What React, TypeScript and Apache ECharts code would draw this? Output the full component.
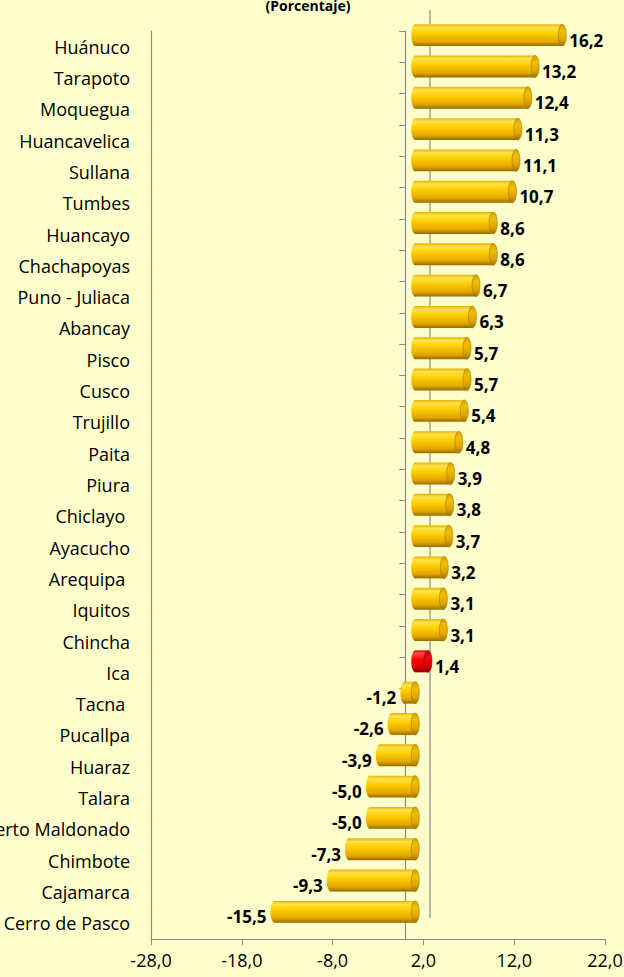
import React, { useEffect, useRef } from "react";
import * as echarts from "echarts";

const categories = [
  "Huánuco", "Tarapoto", "Moquegua", "Huancavelica", "Sullana", "Tumbes", "Huancayo",
  "Chachapoyas", "Puno - Juliaca", "Abancay", "Pisco", "Cusco", "Trujillo", "Paita",
  "Piura", "Chiclayo ", "Ayacucho", "Arequipa ", "Iquitos", "Chincha", "Ica", "Tacna ",
  "Pucallpa", "Huaraz", "Talara", "Puerto Maldonado", "Chimbote", "Cajamarca", "Cerro de Pasco",
];
const values = [
  16.2, 13.2, 12.4, 11.3, 11.1, 10.7, 8.6, 8.6, 6.7, 6.3, 5.7, 5.7, 5.4, 4.8, 3.9, 3.8, 3.7,
  3.2, 3.1, 3.1, 1.4, -1.2, -2.6, -3.9, -5.0, -5.0, -7.3, -9.3, -15.5,
];
const highlightCategory = "Ica";
const xTickValues = [-28, -18, -8, 2, 12, 22];
const titleText = "(Porcentaje)";

const FONT = "'Open Sans', sans-serif";
const fmt = (v: number) => v.toFixed(1).replace(".", ",");

const goldBody = new echarts.graphic.LinearGradient(0, 0, 0, 1, [
  { offset: 0, color: "#E8B000" },
  { offset: 0.15, color: "#FFE34D" },
  { offset: 0.4, color: "#FFD000" },
  { offset: 0.8, color: "#E2A600" },
  { offset: 1, color: "#946A00" },
]);
const goldCap = new echarts.graphic.LinearGradient(0, 0, 0, 1, [
  { offset: 0, color: "#D9A000" },
  { offset: 0.3, color: "#F2BE00" },
  { offset: 0.7, color: "#DDA500" },
  { offset: 1, color: "#A07300" },
]);
const redBody = new echarts.graphic.LinearGradient(0, 0, 0, 1, [
  { offset: 0, color: "#E00000" },
  { offset: 0.15, color: "#FF5050" },
  { offset: 0.4, color: "#FF0000" },
  { offset: 0.8, color: "#D00000" },
  { offset: 1, color: "#8A0000" },
]);
const redCap = new echarts.graphic.LinearGradient(0, 0, 0, 1, [
  { offset: 0, color: "#C00000" },
  { offset: 0.3, color: "#F01010" },
  { offset: 0.7, color: "#D00000" },
  { offset: 1, color: "#900000" },
]);

export default function App() {
  const ref = useRef<HTMLDivElement>(null);
  useEffect(() => {
    if (!ref.current) return;
    const chart = echarts.init(ref.current, undefined, { renderer: "svg" });
    const data = values.map((v, i) => [v, i]);
    chart.setOption({
      animation: false,
      backgroundColor: "#FFFFCC",
      textStyle: { fontFamily: FONT },
      title: {
        text: titleText,
        left: 303,
        top: -7,
        textAlign: "center",
        textStyle: { fontSize: 14, fontWeight: "bold", color: "#000", fontFamily: FONT },
      },
      graphic: [
        {
          type: "line",
          shape: { x1: 430, y1: 10, x2: 430, y2: 918 },
          style: { stroke: "#8C8C8C", lineWidth: 1.2 },
          silent: true,
        },
      ],
      grid: {
        left: 151,
        right: 19,
        top: 31,
        bottom: 38,
        containLabel: false,
        outerBoundsMode: "none",
      },
      xAxis: {
        type: "value",
        min: -28,
        max: 22,
        splitLine: { show: false },
        axisLine: { show: true, lineStyle: { color: "#8C8C8C", width: 1.2 } },
        axisTick: { show: true, length: 6, customValues: xTickValues, lineStyle: { color: "#8C8C8C" } },
        axisLabel: {
          customValues: xTickValues,
          formatter: (v: number) => fmt(v),
          fontSize: 18,
          color: "#000",
          margin: 12,
          fontFamily: FONT,
        },
      },
      yAxis: [
        {
          type: "category",
          data: categories,
          inverse: true,
          position: "left",
          axisLine: { show: true, onZero: false, lineStyle: { color: "#8C8C8C", width: 1.2 } },
          axisTick: { show: false },
          axisLabel: { fontSize: 18, color: "#000", margin: 21, fontFamily: FONT },
          splitLine: { show: false },
        },
        {
          type: "category",
          data: categories,
          inverse: true,
          position: "right",
          axisLine: { show: true, onZero: true, lineStyle: { color: "#8C8C8C", width: 1.2 } },
          axisTick: { show: true, inside: true, length: 6, lineStyle: { color: "#8C8C8C" } },
          axisLabel: { show: false },
          splitLine: { show: false },
        },
      ],
      series: [
        {
          type: "custom",
          xAxisIndex: 0,
          yAxisIndex: 0,
          data,
          encode: { x: 0, y: 1 },
          renderItem: (params: any, api: any) => {
            const v = api.value(0);
            const idx = api.value(1);
            const p0 = api.coord([0, idx]);
            const p1 = api.coord([v, idx]);
            const band = api.size([0, 1])[1];
            const h = band * 0.7;
            const dx = 10;
            const dy = -11.5;
            const xl = Math.min(p0[0], p1[0]) + dx;
            const xr = Math.max(p0[0], p1[0]) + dx;
            const yc = p0[1] + dy;
            const rx = 4;
            const isRed = categories[params.dataIndex] === highlightCategory;
            const body = isRed ? redBody : goldBody;
            const cap = isRed ? redCap : goldCap;
            const capStroke = isRed ? "#8A0000" : "#A27600";
            const label = fmt(v);
            const textEl =
              v >= 0
                ? {
                    type: "text",
                    style: {
                      x: xr + rx + 3,
                      y: yc + 5,
                      text: label,
                      align: "left",
                      verticalAlign: "middle",
                      font: `bold 17px ${FONT}`,
                      fill: "#000",
                    },
                  }
                : {
                    type: "text",
                    style: {
                      x: xl - rx - 4,
                      y: yc + 5,
                      text: label,
                      align: "right",
                      verticalAlign: "middle",
                      font: `bold 17px ${FONT}`,
                      fill: "#000",
                    },
                  };
            return {
              type: "group",
              children: [
                {
                  type: "ellipse",
                  shape: { cx: xl, cy: yc, rx: rx, ry: h / 2 },
                  style: { fill: body },
                },
                {
                  type: "rect",
                  shape: { x: xl, y: yc - h / 2, width: Math.max(xr - xl, 0.5), height: h },
                  style: { fill: body },
                },
                {
                  type: "ellipse",
                  shape: { cx: xr, cy: yc, rx: rx, ry: h / 2 },
                  style: { fill: cap, stroke: capStroke, lineWidth: 0.6 },
                },
                textEl,
              ],
            };
          },
        },
      ],
    });
    return () => chart.dispose();
  }, []);
  return (
    <div
      ref={ref}
      style={{ position: "fixed", left: 0, top: 0, width: 624, height: 977 }}
    />
  );
}
